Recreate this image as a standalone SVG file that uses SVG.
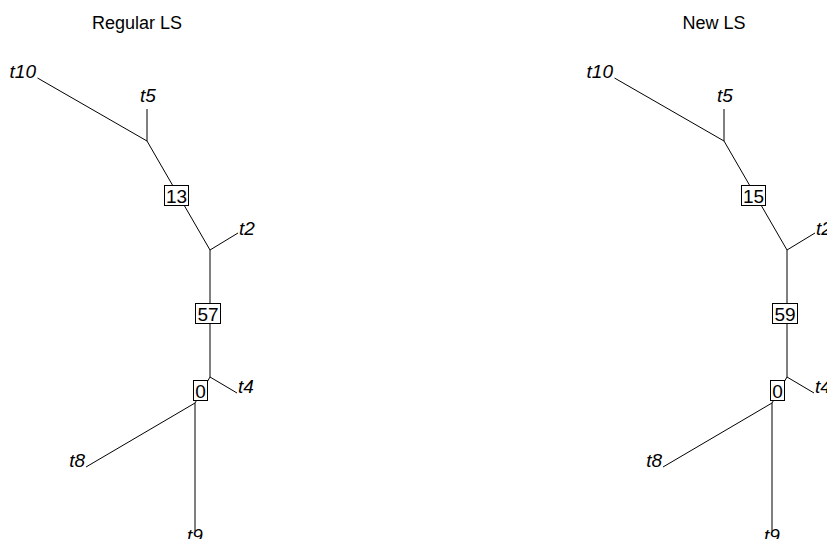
<svg xmlns="http://www.w3.org/2000/svg" width="827" height="539" viewBox="0 0 827 539">
  <style>
    .title { font-family: "Liberation Sans", Arial, sans-serif; font-size: 18px; fill: #000; text-anchor: middle; }
    .tip { font-family: "Liberation Sans", Arial, sans-serif; font-size: 19px; font-style: italic; fill: #000; }
    .nlab { font-family: "Liberation Sans", Arial, sans-serif; font-size: 19px; fill: #000; text-anchor: middle; }
    .edge { stroke: #000; stroke-width: 1; fill: none; }
    .box { fill: #fff; stroke: #000; stroke-width: 1; }
  </style>
  <defs>
    <!-- shared unrooted tree: edges, tip labels -->
    <g id="edges">
      <line class="edge" x1="37.5" y1="78" x2="147" y2="141"/>
      <line class="edge" x1="147" y1="109" x2="147" y2="141"/>
      <line class="edge" x1="147" y1="141" x2="210" y2="250"/>
      <line class="edge" x1="210" y1="250" x2="238" y2="233"/>
      <line class="edge" x1="210" y1="250" x2="210" y2="377"/>
      <line class="edge" x1="210" y1="377" x2="237" y2="393"/>
      <line class="edge" x1="210" y1="377" x2="195" y2="403"/>
      <line class="edge" x1="195" y1="403" x2="86" y2="467"/>
      <line class="edge" x1="195" y1="403" x2="195" y2="531"/>
    </g>
    <g id="tips">
      <text class="tip" x="36" y="78" text-anchor="end">t10</text>
      <text class="tip" x="148" y="102" text-anchor="middle">t5</text>
      <text class="tip" x="239" y="235">t2</text>
      <text class="tip" x="238" y="393">t4</text>
      <text class="tip" x="85" y="467" text-anchor="end">t8</text>
      <text class="tip" x="195" y="542" text-anchor="middle">t9</text>
    </g>
  </defs>

  <!-- left panel -->
  <g id="regular-ls">
    <text class="title" x="137" y="29">Regular LS</text>
    <g id="regular-connectors">
      <use href="#edges"/>
    </g>
    <g id="regular-tips">
      <use href="#tips"/>
    </g>
    <g id="regular-node-13">
      <rect class="box" x="164.5" y="185.5" width="24" height="20"/>
      <text class="nlab" x="176.5" y="202.5">13</text>
    </g>
    <g id="regular-node-57">
      <rect class="box" x="195.5" y="303.5" width="25" height="20"/>
      <text class="nlab" x="208" y="320.5">57</text>
    </g>
    <g id="regular-node-0">
      <rect class="box" x="193.5" y="380.5" width="14" height="20"/>
      <text class="nlab" x="200.5" y="397.5">0</text>
    </g>
  </g>

  <!-- right panel -->
  <g id="new-ls">
    <text class="title" x="714" y="29">New LS</text>
    <g id="new-connectors" transform="translate(577,0)">
      <use href="#edges"/>
    </g>
    <g id="new-tips" transform="translate(577,0)">
      <use href="#tips"/>
    </g>
    <g id="new-node-15" transform="translate(577,0)">
      <rect class="box" x="164.5" y="185.5" width="24" height="20"/>
      <text class="nlab" x="176.5" y="202.5">15</text>
    </g>
    <g id="new-node-59" transform="translate(577,0)">
      <rect class="box" x="195.5" y="303.5" width="25" height="20"/>
      <text class="nlab" x="208" y="320.5">59</text>
    </g>
    <g id="new-node-0" transform="translate(577,0)">
      <rect class="box" x="193.5" y="380.5" width="14" height="20"/>
      <text class="nlab" x="200.5" y="397.5">0</text>
    </g>
  </g>
</svg>
